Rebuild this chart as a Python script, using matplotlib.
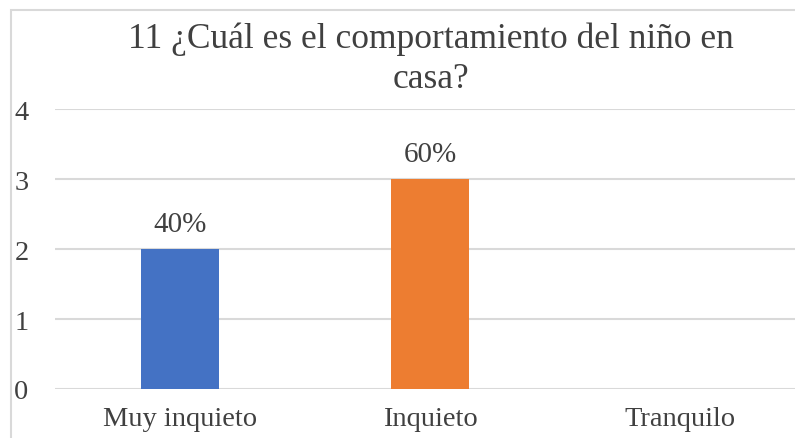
import matplotlib.pyplot as plt
from matplotlib.patches import Rectangle

categories = ["Muy inquieto", "Inquieto", "Tranquilo"]
counts = [2, 3, 0]
labels = ["40%", "60%", ""]
colors = ["#4472c4", "#ed7d31", "#a5a5a5"]
title_lines = ["11 ¿Cuál es el comportamiento del niño en", "casa?"]

plt.rcParams["font.family"] = ["Liberation Serif", "DejaVu Serif"]
text_color = "#404040"

W, H = 795, 439
fig = plt.figure(figsize=(W / 100, H / 100), dpi=100)
# chart border (cut off at right and bottom in the reference)
fig.patches.append(Rectangle((11 / W, -0.1), 1.2, 1 - 11 / H + 0.1,
                             transform=fig.transFigure, fill=False,
                             edgecolor="#d9d9d9", linewidth=1.5))

left, right = 55, 805
bottom, top = 390, 110
ax = fig.add_axes([left / W, 1 - bottom / H, (right - left) / W, (bottom - top) / H])

x = range(len(categories))
ax.bar(x, counts, width=0.31, color=colors, zorder=3)
for xi, c, lab in zip(x, counts, labels):
    if lab:
        ax.annotate(lab, (xi, c), xytext=(0, 13), textcoords="offset points",
                    ha="center", va="baseline", fontsize=21, color=text_color)

ax.set_xlim(-0.5, 2.5)
ax.set_ylim(0, 4)
ax.set_yticks([0, 1, 2, 3, 4])
ax.set_xticks(list(x))
ax.set_xticklabels(categories)
ax.yaxis.grid(True, color="#d9d9d9", linewidth=1.5, zorder=0)
ax.tick_params(axis="both", length=0, labelsize=20.5, labelcolor=text_color)
ax.tick_params(axis="y", pad=19)
ax.tick_params(axis="x", pad=12)
for s in ax.spines.values():
    s.set_visible(False)

for line, base in zip(title_lines, [48, 88]):
    fig.text(431 / W, 1 - base / H, line, ha="center", va="baseline",
             fontsize=25.5, color=text_color)

fig.savefig("out.png", dpi=100)
